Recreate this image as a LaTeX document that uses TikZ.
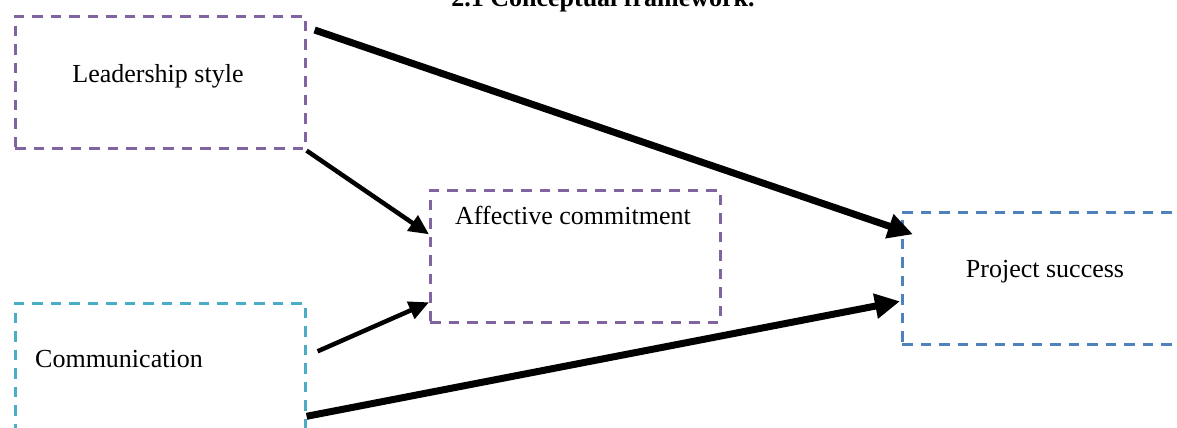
\documentclass[tikz,border=0pt]{standalone}
\usepackage{fontspec}
\setmainfont{Liberation Serif}
\usetikzlibrary{arrows.meta,calc}
\definecolor{boxpurple}{HTML}{8064A2}
\definecolor{boxcyan}{HTML}{4BACC6}
\definecolor{boxblue}{HTML}{4F81BD}
\tikzset{
  framebox/.style={draw=#1, line width=2.6pt, dash pattern=on 10.5pt off 8pt,
    minimum width=290pt, minimum height=132pt, inner sep=0pt, anchor=north west},
  lbl/.style={font=\fontsize{26}{30}\selectfont, inner sep=0pt},
  bigarrow/.style={line width=7pt, -{Triangle[length=25pt,width=24pt]}},
  smallarrow/.style={line width=4.5pt, -{Triangle[length=20pt,width=18pt]}}
}
\begin{document}
\begin{tikzpicture}[x=1pt,y=-1pt]
\useasboundingbox (0,0) rectangle (1177,428);
% title
\node[lbl, font=\fontsize{26}{30}\selectfont\bfseries, anchor=base] (title) at (603,7) {2.1 Conceptual framework.};
% boxes
\node[framebox=boxpurple] (ls) at (14,15) {};
\node[framebox=boxpurple] (ac) at (429,189) {};
\node[framebox=boxcyan] (cm) at (14,302) {};
\node[framebox=boxblue, minimum width=300pt] (ps) at (901,211) {};
% labels
\node[lbl, anchor=base] (lslbl) at (158,82) {Leadership style};
\node[lbl, anchor=base] (aclbl) at (573,224) {Affective commitment};
\node[lbl, anchor=base] (pslbl) at (1045,277) {Project success};
\node[lbl, anchor=base west] (cmlbl) at (35,367) {Communication};
% connectors
\draw[bigarrow] ($(ls.north east)+(8,15)$) -- ($(ps.west)+(12,-44)$);
\draw[smallarrow] ($(ls.south east)+(0,1)$) -- ($(ac.west)+(0,-22)$);
\draw[smallarrow] ($(cm.east)+(11,-18)$) -- ($(ac.west)+(0,46)$);
\draw[bigarrow] ($(cm.east)+(0,47)$) -- ($(ps.west)+(-1,23)$);
\end{tikzpicture}
\end{document}
